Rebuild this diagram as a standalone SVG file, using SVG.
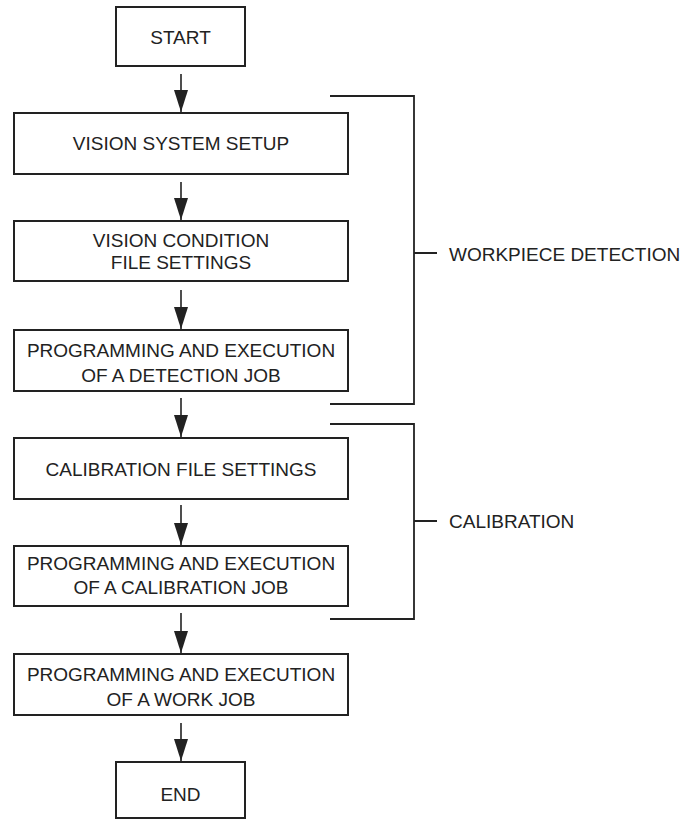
<svg xmlns="http://www.w3.org/2000/svg" width="682" height="820" viewBox="0 0 682 820">
<style>
  .box { fill: #fff; stroke: #222; stroke-width: 2; }
  .lbl { font-family: "Liberation Sans", Arial, sans-serif; font-size: 19px; fill: #222; text-anchor: middle; }
  .side { font-family: "Liberation Sans", Arial, sans-serif; font-size: 19px; fill: #222; text-anchor: start; }
  .conn { fill: none; stroke: #222; stroke-width: 1.6; }
  .brk { fill: none; stroke: #222; stroke-width: 1.8; }
</style>
<defs>
  <marker id="ah" viewBox="0 0 22 14" refX="22" refY="7" markerWidth="22" markerHeight="14" markerUnits="userSpaceOnUse" orient="auto">
    <path d="M0,0 L22,7 L0,14 z" fill="#222"/>
  </marker>
</defs>
<rect width="682" height="820" fill="#fff"/>

<g id="connectors">
  <path class="conn" d="M181,74 V112" marker-end="url(#ah)"/>
  <path class="conn" d="M181,182 V220" marker-end="url(#ah)"/>
  <path class="conn" d="M181,290 V329" marker-end="url(#ah)"/>
  <path class="conn" d="M181,398 V437" marker-end="url(#ah)"/>
  <path class="conn" d="M181,505 V545" marker-end="url(#ah)"/>
  <path class="conn" d="M181,613 V653" marker-end="url(#ah)"/>
  <path class="conn" d="M181,723 V761" marker-end="url(#ah)"/>
</g>

<g id="start">
  <rect class="box" x="116" y="7" width="129" height="59"/>
  <text class="lbl" x="180.5" y="44">START</text>
</g>
<g id="vision-system-setup">
  <rect class="box" x="14" y="113" width="334" height="61"/>
  <text class="lbl" x="181" y="150">VISION SYSTEM SETUP</text>
</g>
<g id="vision-condition">
  <rect class="box" x="14" y="221" width="334" height="60"/>
  <text class="lbl" x="181" y="247">VISION CONDITION</text>
  <text class="lbl" x="181" y="269">FILE SETTINGS</text>
</g>
<g id="detection-job">
  <rect class="box" x="14" y="330" width="334" height="61"/>
  <text class="lbl" x="181" y="357">PROGRAMMING AND EXECUTION</text>
  <text class="lbl" x="181" y="382">OF A DETECTION JOB</text>
</g>
<g id="calibration-file">
  <rect class="box" x="14" y="438" width="334" height="61"/>
  <text class="lbl" x="181" y="476">CALIBRATION FILE SETTINGS</text>
</g>
<g id="calibration-job">
  <rect class="box" x="14" y="546" width="334" height="60"/>
  <text class="lbl" x="181" y="570">PROGRAMMING AND EXECUTION</text>
  <text class="lbl" x="181" y="594">OF A CALIBRATION JOB</text>
</g>
<g id="work-job">
  <rect class="box" x="14" y="654" width="334" height="61"/>
  <text class="lbl" x="181" y="681">PROGRAMMING AND EXECUTION</text>
  <text class="lbl" x="181" y="706">OF A WORK JOB</text>
</g>
<g id="end">
  <rect class="box" x="116" y="762" width="129" height="56"/>
  <text class="lbl" x="180.5" y="801">END</text>
</g>

<g id="workpiece-detection">
  <path class="brk" d="M330,96 H414 V404 H330 M414,253 H437"/>
  <text class="side" x="449" y="261">WORKPIECE DETECTION</text>
</g>
<g id="calibration">
  <path class="brk" d="M330,424 H414 V619 H330 M414,521 H437"/>
  <text class="side" x="449" y="528">CALIBRATION</text>
</g>
</svg>
